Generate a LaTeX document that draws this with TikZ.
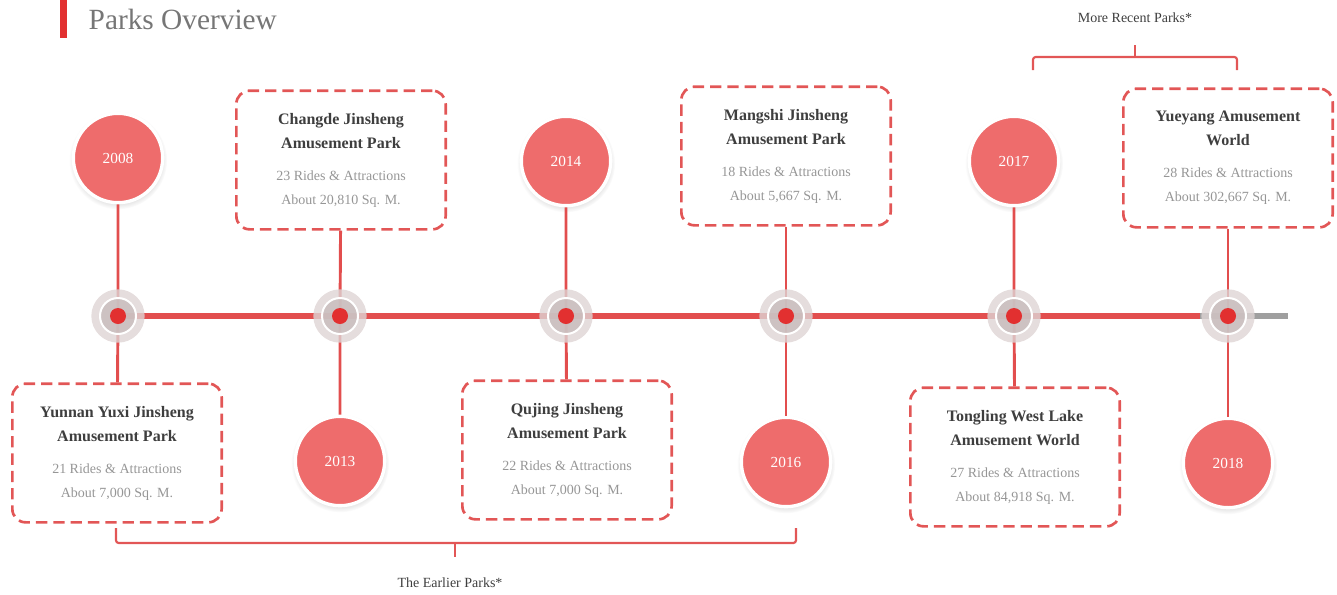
\documentclass[tikz,border=0pt]{standalone}
\usepackage{fontspec}
\setmainfont{Liberation Serif}
\usetikzlibrary{positioning,shadows}

\definecolor{linered}{RGB}{226,78,78}
\definecolor{dotred}{RGB}{226,48,48}
\definecolor{yearfill}{RGB}{238,108,108}
\definecolor{boxred}{RGB}{226,86,86}
\definecolor{halogray}{RGB}{222,212,212}
\definecolor{innergray}{RGB}{200,188,188}
\definecolor{darktext}{RGB}{62,62,62}
\definecolor{softtext}{RGB}{150,150,150}
\definecolor{titlegray}{RGB}{118,118,118}

\begin{document}
\begin{tikzpicture}[x=0.75pt,y=-0.75pt,
  year/.style={circle,fill=yearfill,draw=white,line width=2.5pt,minimum size=67pt,
    text=white,font=\fontsize{11.5}{13}\selectfont,
    circular drop shadow={shadow xshift=0pt,shadow yshift=-1.5pt,opacity=0.25}},
  parkbox/.style={draw=boxred,line width=2pt,dash pattern=on 8.5pt off 4.5pt,
    rounded corners=10pt,minimum width=157pt,minimum height=104pt,align=center,
    text=softtext,font=\fontsize{10.5}{18}\selectfont},
  stem/.style={draw=linered,line width=2.2pt},
  brace/.style={draw=boxred,line width=1.6pt,rounded corners=2pt},
  note/.style={text=darktext,font=\fontsize{10.5}{12}\selectfont}]

\useasboundingbox (0,0) rectangle (1337,594);

% heading
\fill[dotred] (60,0) rectangle (67,38);
\node[anchor=west,text=titlegray,font=\fontsize{22}{24}\selectfont] (head) at (84,19) {Parks Overview};

% points on the time line
\coordinate (d1) at (118,316);
\coordinate (d2) at (340,316);
\coordinate (d3) at (566,316);
\coordinate (d4) at (786,316);
\coordinate (d5) at (1014,316);
\coordinate (d6) at (1228,316);
\coordinate (tlend) at (1288,316);
\coordinate (tlred) at (1200,316);

% years
\node[year] (y2008) at (118,158) {2008};
\node[year] (y2013) at (340,461) {2013};
\node[year] (y2014) at (566,161) {2014};
\node[year] (y2016) at (786,462) {2016};
\node[year] (y2017) at (1014,161) {2017};
\node[year] (y2018) at (1228,463) {2018};

% parks
\node[parkbox] (yunnan) at (117,453)
  {\color{darktext}\bfseries\fontsize{12}{18}\selectfont Yunnan Yuxi Jinsheng\\
   \color{darktext}\bfseries\fontsize{12}{18}\selectfont Amusement Park\\[6pt]
   21 Rides \& Attractions\\ About 7,000 Sq. M.};
\node[parkbox] (changde) at (341,160)
  {\color{darktext}\bfseries\fontsize{12}{18}\selectfont Changde Jinsheng\\
   \color{darktext}\bfseries\fontsize{12}{18}\selectfont Amusement Park\\[6pt]
   23 Rides \& Attractions\\ About 20,810 Sq. M.};
\node[parkbox] (qujing) at (567,450)
  {\color{darktext}\bfseries\fontsize{12}{18}\selectfont Qujing Jinsheng\\
   \color{darktext}\bfseries\fontsize{12}{18}\selectfont Amusement Park\\[6pt]
   22 Rides \& Attractions\\ About 7,000 Sq. M.};
\node[parkbox] (mangshi) at (786,156)
  {\color{darktext}\bfseries\fontsize{12}{18}\selectfont Mangshi Jinsheng\\
   \color{darktext}\bfseries\fontsize{12}{18}\selectfont Amusement Park\\[6pt]
   18 Rides \& Attractions\\ About 5,667 Sq. M.};
\node[parkbox] (tongling) at (1015,457)
  {\color{darktext}\bfseries\fontsize{12}{18}\selectfont Tongling West Lake\\
   \color{darktext}\bfseries\fontsize{12}{18}\selectfont Amusement World\\[6pt]
   27 Rides \& Attractions\\ About 84,918 Sq. M.};
\node[parkbox] (yueyang) at (1228,158)
  {\color{darktext}\bfseries\fontsize{12}{18}\selectfont Yueyang Amusement\\
   \color{darktext}\bfseries\fontsize{12}{18}\selectfont World\\[6pt]
   28 Rides \& Attractions\\ About 302,667 Sq. M.};

% stems
\draw[stem] (y2008) -- (d1) -- (yunnan);
\draw[stem] (changde) -- (d2) -- (y2013);
\draw[stem] (y2014) -- (d3) -- (qujing);
\draw[stem] (mangshi) -- (d4) -- (y2016);
\draw[stem] (y2017) -- (d5) -- (tongling);
\draw[stem] (yueyang) -- (d6) -- (y2018);

% time line
\draw[line width=4.5pt,draw=gray!75] (tlred) -- (tlend);
\draw[line width=4.5pt,draw=linered] (d1) -- (tlred);

\foreach \i in {1,...,6}{
  \node[circle,fill=halogray,fill opacity=.8,minimum size=40pt,inner sep=0pt] (h\i) at (d\i) {};
  \node[circle,fill=innergray,fill opacity=.8,draw=white,line width=1.5pt,minimum size=27pt,inner sep=0pt] (r\i) at (d\i) {};
  \node[circle,fill=dotred,minimum size=12pt,inner sep=0pt] (m\i) at (d\i) {};
}

% groups
\node[note] (early) at (450,583) {The Earlier Parks*};
\draw[brace] (116,528) -- (116,543) -- (796,543) -- (796,528);
\draw[brace] (455,543) -- (455,557);

\node[note] (recent) at (1135,18) {More Recent Parks*};
\draw[brace] (1033,70) -- (1033,57) -- (1237,57) -- (1237,70);
\draw[brace] (1135,57) -- (1135,45);

\end{tikzpicture}
\end{document}
